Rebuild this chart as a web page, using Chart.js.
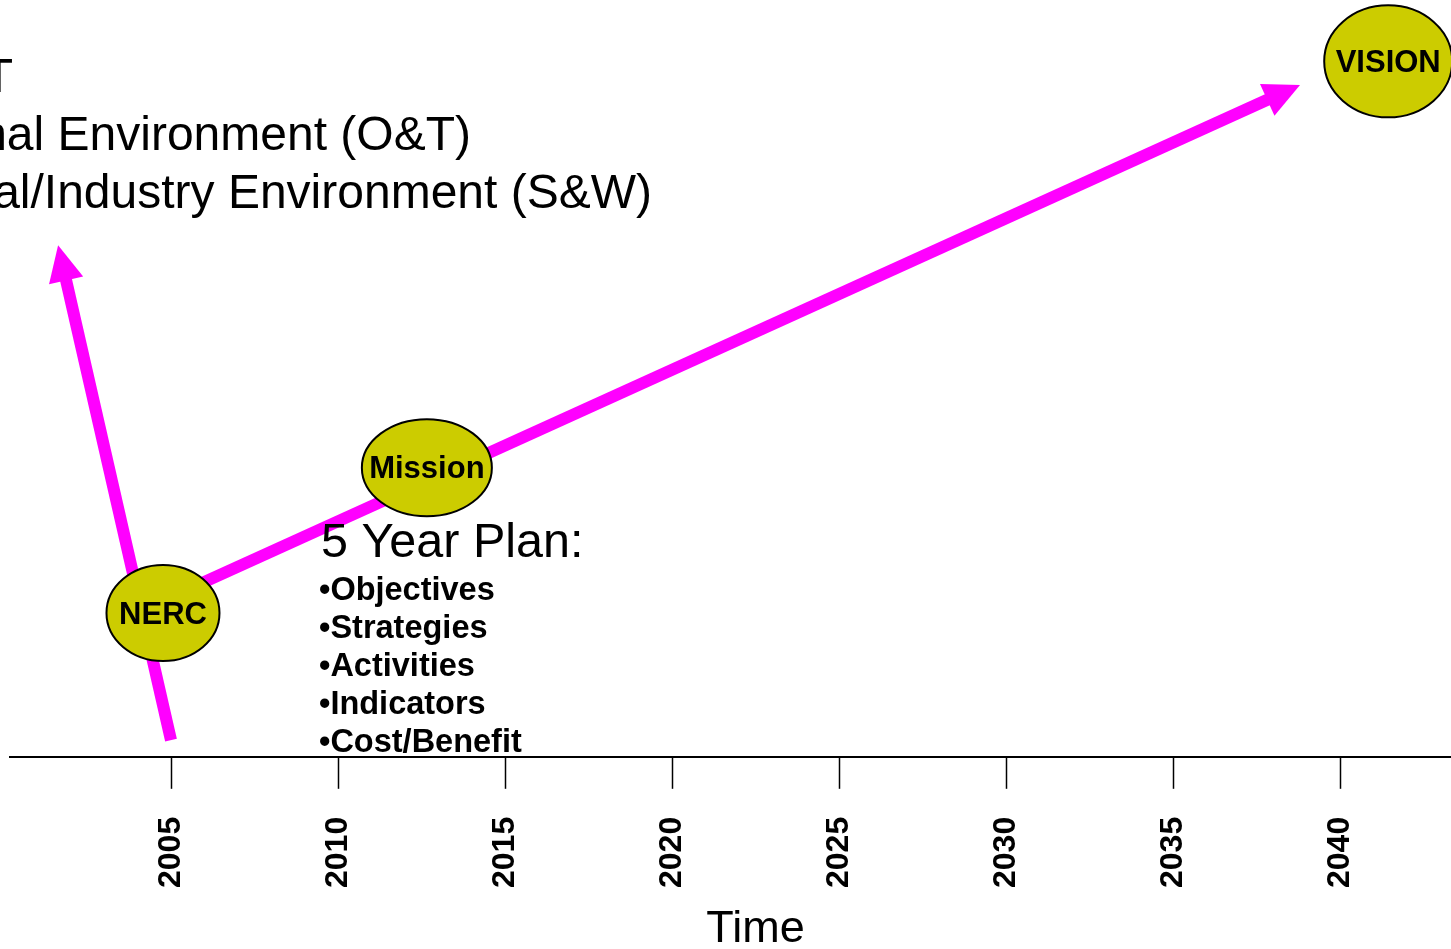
<!DOCTYPE html>
<html>
<head>
<meta charset="utf-8">
<title>NERC - Mission to Vision</title>
<script src="https://cdn.jsdelivr.net/npm/chart.js@4.4.1/dist/chart.umd.min.js"></script>
<style>
  html, body { margin: 0; padding: 0; background: #fff; }
  #wrap { width: 1451px; height: 949px; overflow: hidden; }
</style>
</head>
<body>
<div id="wrap"><canvas id="roadmap" width="1451" height="949"></canvas></div>
<script>
// axis
const tickYears = [2005, 2010, 2015, 2020, 2025, 2030, 2035, 2040];
const tickLabels = ['2005', '2010', '2015', '2020', '2025', '2030', '2035', '2040'];

// milestones (ellipses), y is height above the time axis (0-100)
const milestoneNames = ['NERC', 'Mission', 'VISION'];
const milestoneYears = [2004.76, 2012.66, 2041.44];
const milestoneLevels = [19.0, 38.2, 91.9];

// arrows: start -> tip
const arrowFromYears = [2005.0, 2005.87];
const arrowFromLevels = [2.2, 22.85];
const arrowToYears = [2001.62, 2038.80];
const arrowToLevels = [67.6, 88.77];

// text blocks
const environmentLines = ['T', 'nal Environment (O&T)', 'al/Industry Environment (S&W)'];
const planTitle = '5 Year Plan:';
const planItems = ['•Objectives', '•Strategies', '•Activities', '•Indicators', '•Cost/Benefit'];

const FONT = "'Liberation Sans', Arial, Helvetica, sans-serif";
const MAGENTA = '#FF00FF';
const OLIVE = '#CCCC00';
const ellipseRx = [56.5, 65, 64];
const ellipseRy = [48, 48.5, 56];

const arrowData = arrowFromYears.map((x, i) => [
    { x: x, y: arrowFromLevels[i] },
    { x: arrowToYears[i], y: arrowToLevels[i] }
]);
const milestoneData = milestoneYears.map((x, i) => ({ x: x, y: milestoneLevels[i] }));

const diagramPlugin = {
    id: 'diagram',
    afterDatasetsDraw(chart) {
        const ctx = chart.ctx;
        ctx.save();

        // arrows
        arrowData.forEach((pts, i) => {
            const meta = chart.getDatasetMeta(i);
            const p0 = meta.data[0], p1 = meta.data[1];
            const dx = p1.x - p0.x, dy = p1.y - p0.y;
            const len = Math.hypot(dx, dy);
            const ux = dx / len, uy = dy / len;
            const headLen = 36, headHalf = 17.5;
            const bx = p1.x - ux * headLen, by = p1.y - uy * headLen;

            ctx.strokeStyle = MAGENTA;
            ctx.lineWidth = 12;
            ctx.lineCap = 'butt';
            ctx.beginPath();
            ctx.moveTo(p0.x, p0.y);
            ctx.lineTo(bx + ux * 2, by + uy * 2);
            ctx.stroke();

            ctx.fillStyle = MAGENTA;
            ctx.beginPath();
            ctx.moveTo(p1.x, p1.y);
            ctx.lineTo(bx - uy * headHalf, by + ux * headHalf);
            ctx.lineTo(bx + uy * headHalf, by - ux * headHalf);
            ctx.closePath();
            ctx.fill();
        });

        // milestone ellipses
        const mMeta = chart.getDatasetMeta(arrowData.length);
        mMeta.data.forEach((pt, i) => {
            ctx.beginPath();
            ctx.ellipse(pt.x, pt.y, ellipseRx[i], ellipseRy[i], 0, 0, Math.PI * 2);
            ctx.fillStyle = OLIVE;
            ctx.fill();
            ctx.lineWidth = 2;
            ctx.strokeStyle = '#000';
            ctx.stroke();

            ctx.fillStyle = '#000';
            ctx.font = 'bold 31px ' + FONT;
            ctx.textAlign = 'center';
            ctx.textBaseline = 'middle';
            ctx.fillText(milestoneNames[i], pt.x, pt.y + 2);
        });

        // environment text (cut off at the left edge)
        ctx.fillStyle = '#000';
        ctx.textBaseline = 'alphabetic';
        ctx.textAlign = 'right';
        ctx.font = '48px ' + FONT;
        const envRight = [13, 471, 652];
        environmentLines.forEach((t, i) => ctx.fillText(t, envRight[i], 92 + i * 58));

        // 5 year plan
        ctx.textAlign = 'left';
        ctx.font = '48.5px ' + FONT;
        ctx.fillText(planTitle, 321, 557);
        ctx.font = 'bold 32.5px ' + FONT;
        planItems.forEach((t, i) => ctx.fillText(t, 319, 600 + i * 38));

        ctx.restore();
    }
};

const chart = new Chart(document.getElementById('roadmap').getContext('2d'), {
    type: 'scatter',
    data: {
        datasets: [
            { label: 'Environment', type: 'line', data: arrowData[0], showLine: false, pointRadius: 0 },
            { label: 'Plan', type: 'line', data: arrowData[1], showLine: false, pointRadius: 0 },
            { label: 'Milestones', data: milestoneData, pointRadius: 0 }
        ]
    },
    options: {
        responsive: false,
        animation: false,
        layout: { padding: { left: 10, right: 0, top: 0, bottom: 0 } },
        plugins: {
            legend: { display: false },
            tooltip: { enabled: false }
        },
        scales: {
            x: {
                type: 'linear',
                min: 2000.18,
                max: 2043.32,
                afterBuildTicks: (scale) => {
                    scale.ticks = tickYears.map(v => ({ value: v }));
                },
                ticks: {
                    callback: (v) => tickLabels[tickYears.indexOf(v)],
                    minRotation: 90,
                    maxRotation: 90,
                    autoSkip: false,
                    padding: 28,
                    color: '#000',
                    font: { family: FONT, size: 32, weight: 'bold' }
                },
                grid: {
                    drawOnChartArea: false,
                    tickLength: 32,
                    tickWidth: 1.5,
                    tickColor: '#000'
                },
                border: { color: '#000', width: 2 },
                title: {
                    display: true,
                    // leading spaces nudge the centred title to the right, as in the original
                    text: '\u00A0\u00A0\u00A0\u00A0Time',
                    color: '#000',
                    font: { family: FONT, size: 45, lineHeight: 1 },
                    padding: { top: -9, bottom: -3 }
                }
            },
            y: {
                display: false,
                min: 0,
                max: 100
            }
        }
    },
    plugins: [diagramPlugin]
});
</script>
</body>
</html>
